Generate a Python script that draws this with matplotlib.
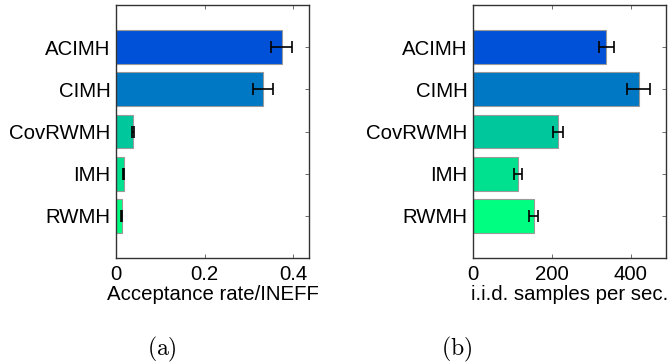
import numpy as np
import matplotlib
matplotlib.use("Agg")
from matplotlib import pyplot as plt

plt.rcParams['font.family'] = ['Liberation Sans', 'DejaVu Sans']
plt.rcParams['mathtext.fontset'] = 'cm'

# Data (bottom to top, as barh draws it)
methods = ["RWMH", "IMH", "CovRWMH", "CIMH", "ACIMH"]
acc_rate = [0.013, 0.0175, 0.0385, 0.332, 0.374]
acc_err = [0.001, 0.0015, 0.002, 0.022, 0.023]
iid_rate = [154, 114, 215, 420, 338]
iid_err = [11, 11, 13, 29, 20]
colour_pos = [1.0, 0.88, 0.78, 0.47, 0.32]   # position in the winter colormap

colours = [plt.cm.winter(c) for c in colour_pos]

W, H = 670, 363
fig = plt.figure(figsize=(W / 100, H / 100), dpi=100)


def make_axes(left_px, values, errs, xlim, xticks, xticklabels, xlabel, caption, cap_x):
    ax = fig.add_axes([left_px / W, (H - 258) / H, 193 / W, 253 / H])
    y = np.arange(1, len(methods) + 1)
    ax.barh(y, values, height=0.8, color=colours, edgecolor='#9a9a9a', linewidth=0.8, zorder=2)
    ax.errorbar(values, y, xerr=errs, fmt='none', ecolor='black', elinewidth=1.2,
                capsize=4, capthick=1.2, zorder=3)
    ax.set_xlim(xlim)
    ax.set_ylim(0, 6)
    ax.set_yticks(y)
    ax.set_yticklabels(methods, fontsize=14.7)
    ax.set_xticks(xticks)
    ax.set_xticklabels(xticklabels, fontsize=14.7)
    ax.tick_params(direction='in', length=3, width=0.6, top=True, right=True,
                   colors='#555555', labelcolor='black')
    ax.tick_params(axis='y', pad=4)
    ax.tick_params(axis='x', pad=5)
    for s in ax.spines.values():
        s.set_color('#333333')
        s.set_linewidth(1.0)
    ax.set_xlabel(xlabel, fontsize=14.7, labelpad=1)
    fig.text(cap_x / W, 1 - 349 / H, caption, fontsize=17, ha='center', va='center')
    return ax


make_axes(116, acc_rate, acc_err, (0, 0.436), [0, 0.2, 0.4], ["0", "0.2", "0.4"],
          "Acceptance rate/INEFF", r"$\mathrm{(a)}$", 162)
make_axes(473, iid_rate, iid_err, (0, 489), [0, 200, 400], ["0", "200", "400"],
          "i.i.d. samples per sec.", r"$\mathrm{(b)}$", 457)

fig.savefig("out.png", dpi=100)
